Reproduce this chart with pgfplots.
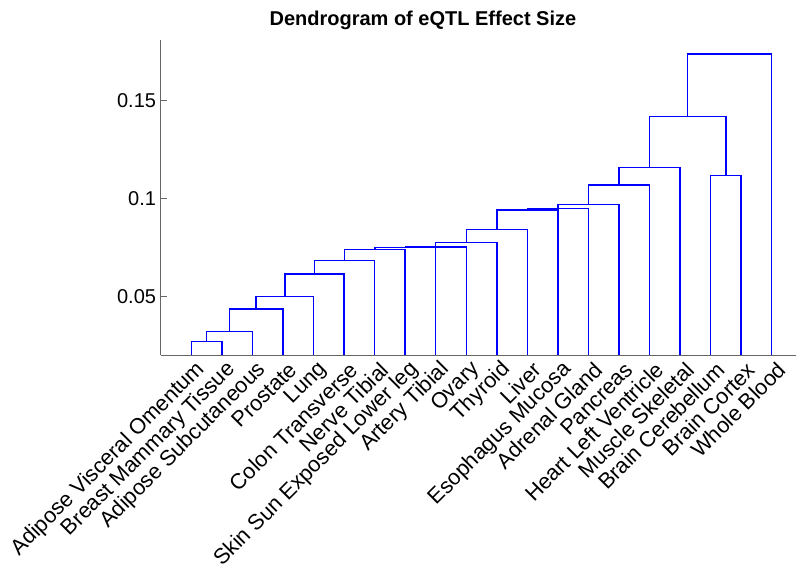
\documentclass[border=0pt]{standalone}
\usepackage{fontspec}
\setmainfont{Liberation Sans}
\usepackage{pgfplots}
\pgfplotsset{compat=1.18}
\definecolor{axgray}{rgb}{0.4,0.4,0.4}
\definecolor{dblue}{rgb}{0,0,1}
\pgfplotsset{dl/.style={color=dblue, line width=1.1pt, mark=none}}
\begin{document}
\begin{tikzpicture}
\path[use as bounding box] (0,0) rectangle (597pt,428.25pt);
\begin{axis}[
  at={(120.56pt,162pt)}, anchor=south west,
  scale only axis, width=476.1pt, height=236.3pt,
  xmin=0, xmax=20.78, ymin=0.02, ymax=0.181,
  axis x line*=bottom, axis y line*=left,
  axis line style={-, draw=axgray, line width=0.6pt},
  tick align=inside, major tick length=5pt,
  tick style={draw=axgray, line width=0.6pt},
  xtick={1,2,3,4,5,6,7,8,9,10,11,12,13,14,15,16,17,18,19,20},
  xticklabels={Adipose Visceral Omentum,Breast Mammary Tissue,Adipose Subcutaneous,Prostate,Lung,Colon Transverse,Nerve Tibial,Skin Sun Exposed Lower leg,Artery Tibial,Ovary,Thyroid,Liver,Esophagus Mucosa,Adrenal Gland,Pancreas,Heart Left Ventricle,Muscle Skeletal,Brain Cerebellum,Brain Cortex,Whole Blood},
  xticklabel style={xshift=10pt, yshift=-6pt, rotate=45, anchor=east, font=\fontsize{16.3}{19}\selectfont},
  ytick={0.05,0.1,0.15},
  yticklabels={0.05,0.1,0.15},
  yticklabel style={font=\fontsize{15}{18}\selectfont},
  /pgf/number format/assume math mode=true,
  title={Dendrogram of eQTL Effect Size},
  title style={at={(axis description cs:0.413,1)}, anchor=base, yshift=4.5pt, font=\bfseries\fontsize{15}{18}\selectfont},
]
\addplot[dl] coordinates {(1,0)(1,0.0270)(2,0.0270)(2,0)};
\addplot[dl] coordinates {(1.5,0.0270)(1.5,0.0321)(3,0.0321)(3,0)};
\addplot[dl] coordinates {(2.25,0.0321)(2.25,0.0435)(4,0.0435)(4,0)};
\addplot[dl] coordinates {(3.125,0.0435)(3.125,0.0500)(5,0.0500)(5,0)};
\addplot[dl] coordinates {(4.0625,0.0500)(4.0625,0.0615)(6,0.0615)(6,0)};
\addplot[dl] coordinates {(5.03125,0.0615)(5.03125,0.0684)(7,0.0684)(7,0)};
\addplot[dl] coordinates {(6.015625,0.0684)(6.015625,0.0738)(8,0.0738)(8,0)};
\addplot[dl] coordinates {(7.0078125,0.0738)(7.0078125,0.0748)(9,0.0748)(9,0)};
\addplot[dl] coordinates {(8.00390625,0.0748)(8.00390625,0.0753)(10,0.0753)(10,0)};
\addplot[dl] coordinates {(9.001953,0.0753)(9.001953,0.0776)(11,0.0776)(11,0)};
\addplot[dl] coordinates {(10.000977,0.0776)(10.000977,0.0842)(12,0.0842)(12,0)};
\addplot[dl] coordinates {(11.000488,0.0842)(11.000488,0.0941)(13,0.0941)(13,0)};
\addplot[dl] coordinates {(12.000244,0.0941)(12.000244,0.0948)(14,0.0948)(14,0)};
\addplot[dl] coordinates {(13.000122,0.0948)(13.000122,0.0970)(15,0.0970)(15,0)};
\addplot[dl] coordinates {(14.000061,0.0970)(14.000061,0.1069)(16,0.1069)(16,0)};
\addplot[dl] coordinates {(15.00003,0.1069)(15.00003,0.1157)(17,0.1157)(17,0)};
\addplot[dl] coordinates {(18,0)(18,0.1118)(19,0.1118)(19,0)};
\addplot[dl] coordinates {(16.000015,0.1157)(16.000015,0.1420)(18.5,0.1420)(18.5,0.1118)};
\addplot[dl] coordinates {(17.25,0.1420)(17.25,0.1738)(20,0.1738)(20,0)};
\end{axis}
\end{tikzpicture}
\end{document}
